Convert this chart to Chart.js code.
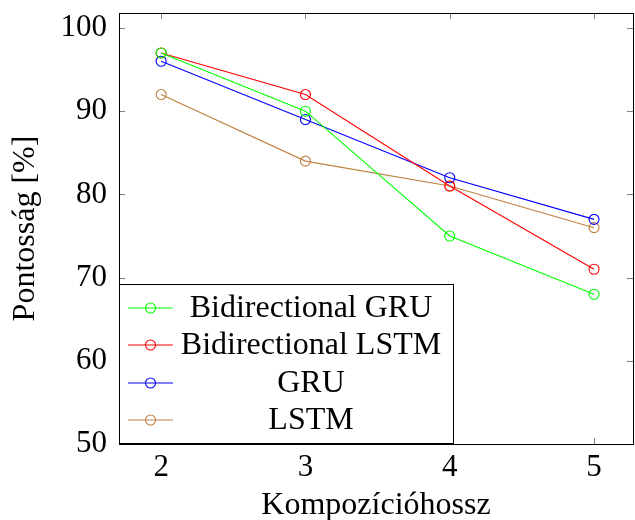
<!DOCTYPE html>
<html>
<head>
<meta charset="utf-8">
<script src="https://cdn.jsdelivr.net/npm/chart.js@4.4.0/dist/chart.umd.min.js"></script>
<style>
  html, body { margin: 0; padding: 0; background: #fff; }
  #wrap { width: 635px; height: 520px; }
</style>
</head>
<body>
<div id="wrap"><canvas id="chart" width="635" height="520"></canvas></div>
<script>
// data
const lengths = [2, 3, 4, 5];
const yTicks = [50, 60, 70, 80, 90, 100];
const biGru = [97, 90, 75, 68];
const biLstm = [97, 92, 81, 71];
const gru = [96, 89, 82, 77];
const lstm = [92, 84, 81, 76];

const seriesNames = ['Bidirectional GRU', 'Bidirectional LSTM', 'GRU', 'LSTM'];
const seriesColors = ['#00ff00', '#ff0000', '#0000ff', '#bf8040'];
const seriesValues = [biGru, biLstm, gru, lstm];

const FONT = '"Liberation Serif", "DejaVu Serif", serif';

const datasets = seriesValues.map((vals, i) => ({
    label: seriesNames[i],
    data: vals.map((v, j) => ({ x: lengths[j], y: v })),
    borderColor: seriesColors[i],
    backgroundColor: 'transparent',
    pointBackgroundColor: 'transparent',
    pointBorderColor: seriesColors[i],
    pointRadius: 5,
    pointBorderWidth: 1.1,
    borderWidth: 1.1,
    tension: 0
}));

// frame + inward ticks, pgfplots style
const framePlugin = {
    id: 'frame',
    afterDatasetsDraw(chart) {
        const { ctx, chartArea: a, scales } = chart;
        ctx.save();
        ctx.strokeStyle = '#808080';
        ctx.lineWidth = 1;
        const len = 6;
        lengths.forEach(v => {
            const x = Math.round(scales.x.getPixelForValue(v)) + 0.5;
            ctx.beginPath();
            ctx.moveTo(x, a.bottom); ctx.lineTo(x, a.bottom - len);
            ctx.moveTo(x, a.top); ctx.lineTo(x, a.top + len);
            ctx.stroke();
        });
        yTicks.forEach(v => {
            const y = Math.round(scales.y.getPixelForValue(v)) + 0.5;
            ctx.beginPath();
            ctx.moveTo(a.left, y); ctx.lineTo(a.left + len, y);
            ctx.moveTo(a.right, y); ctx.lineTo(a.right - len, y);
            ctx.stroke();
        });
        ctx.strokeStyle = '#000';
        ctx.strokeRect(Math.round(a.left) + 0.5, Math.round(a.top) + 0.5,
            Math.round(a.right - a.left), Math.round(a.bottom - a.top));
        ctx.restore();
    }
};

// legend box in the lower left corner of the plot
const legendPlugin = {
    id: 'boxLegend',
    afterDraw(chart) {
        const { ctx, chartArea: a } = chart;
        const left = a.left, top = 284, right = 453, bottom = a.bottom - 1;
        ctx.save();
        ctx.fillStyle = '#fff';
        ctx.fillRect(left, top, right - left, bottom - top);
        ctx.strokeStyle = '#000';
        ctx.lineWidth = 1;
        ctx.strokeRect(left + 0.5, top + 0.5, right - left, bottom - top);
        const rowY = [308, 345, 383, 420];
        seriesNames.forEach((name, i) => {
            const y = rowY[i];
            ctx.strokeStyle = seriesColors[i];
            ctx.lineWidth = 1.1;
            ctx.beginPath();
            ctx.moveTo(128, y); ctx.lineTo(173, y);
            ctx.stroke();
            ctx.beginPath();
            ctx.arc(150.5, y, 5, 0, Math.PI * 2);
            ctx.stroke();
            ctx.fillStyle = '#000';
            ctx.font = '32px ' + FONT;
            ctx.textAlign = 'center';
            ctx.textBaseline = 'middle';
            ctx.fillText(name, 311, y + 1);
        });
        ctx.restore();
    }
};

const noOverflow = (s) => {
    s.paddingTop = 0; s.paddingBottom = 0;
    s.paddingLeft = 0; s.paddingRight = 0;
};

new Chart(document.getElementById('chart'), {
    type: 'line',
    data: { datasets },
    options: {
        responsive: false,
        animation: false,
        layout: { autoPadding: false, padding: { left: 0, top: 13, right: 2, bottom: 0 } },
        plugins: {
            legend: { display: false },
            tooltip: { enabled: false }
        },
        scales: {
            x: {
                type: 'linear',
                min: 1.708,
                max: 5.27,
                afterBuildTicks: (s) => { s.ticks = lengths.map(v => ({ value: v })); },
                afterFit: (s) => { s.height = 76; noOverflow(s); },
                grid: { display: false, drawTicks: false },
                border: { display: false },
                ticks: { color: '#000', padding: 5, font: { family: FONT, size: 31 } },
                title: {
                    display: true,
                    text: 'Kompozícióhossz',
                    color: '#000',
                    padding: { top: 0, bottom: -2 },
                    font: { family: FONT, size: 32, lineHeight: 1 }
                }
            },
            y: {
                min: 50,
                max: 101.8,
                afterBuildTicks: (s) => { s.ticks = yTicks.map(v => ({ value: v })); },
                afterFit: (s) => { s.width = 119; noOverflow(s); },
                grid: { display: false, drawTicks: false },
                border: { display: false },
                ticks: { color: '#000', padding: 12, font: { family: FONT, size: 31 } },
                title: {
                    display: true,
                    text: 'Pontosság [%]',
                    color: '#000',
                    padding: { top: 6, bottom: 0 },
                    font: { family: FONT, size: 32 }
                }
            }
        }
    },
    plugins: [framePlugin, legendPlugin]
});
</script>
</body>
</html>
